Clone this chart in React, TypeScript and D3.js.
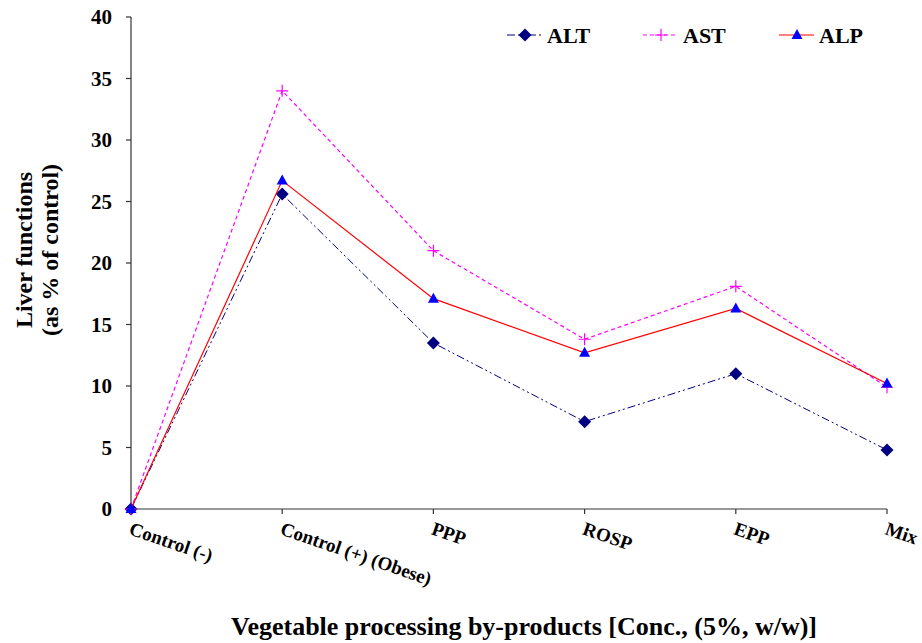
import React from "react";
import * as d3 from "d3";

const categories = ["Control (-)", "Control (+) (Obese)", "PPP", "ROSP", "EPP", "Mix"];
const altValues = [0, 25.6, 13.5, 7.1, 11.0, 4.8];
const astValues = [0, 34.0, 21.0, 13.8, 18.1, 9.9];
const alpValues = [0, 26.7, 17.1, 12.7, 16.3, 10.2];
const yTicks = [0, 5, 10, 15, 20, 25, 30, 35, 40];

const W = 922, H = 643;
const x0 = 131, x1 = 887, yTop = 17, yBot = 509;

export default function App() {
  const x = d3.scalePoint<string>().domain(categories).range([x0, x1]);
  const y = d3.scaleLinear().domain([0, 40]).range([yBot, yTop]);
  const line = d3.line<number>().x((_, i) => x(categories[i])!).y((d) => y(d));
  const font = "'Liberation Serif', 'Times New Roman', serif";

  const diamond = (cx: number, cy: number, k: string) => (
    <path key={k} d={`M${cx},${cy - 6.5}L${cx + 6.5},${cy}L${cx},${cy + 6.5}L${cx - 6.5},${cy}Z`} fill="#000080" />
  );
  const plus = (cx: number, cy: number, k: string) => (
    <path key={k} d={`M${cx - 6},${cy}H${cx + 6}M${cx},${cy - 6}V${cy + 6}`} stroke="#ff00ff" strokeWidth={1.2} />
  );
  const tri = (cx: number, cy: number, k: string) => (
    <path key={k} d={`M${cx},${cy - 6}L${cx + 5.5},${cy + 4}L${cx - 5.5},${cy + 4}Z`} fill="#0000ff" />
  );

  const series = [
    { name: "ALT", vals: altValues, color: "#000080", dash: "8,3,2,3,2,3", width: 1, marker: diamond, lx: 507 },
    { name: "AST", vals: astValues, color: "#ff00ff", dash: "4,3", width: 1.2, marker: plus, lx: 643 },
    { name: "ALP", vals: alpValues, color: "#ff0000", dash: "", width: 1.2, marker: tri, lx: 779 },
  ];

  return (
    <svg width={W} height={H} style={{ position: "absolute", left: 0, top: 0, background: "#fff" }} fontFamily={font}>
      <rect width={W} height={H} fill="#fff" />
      <line x1={x0} x2={x0} y1={yTop} y2={yBot} stroke="#333" strokeWidth={1.2} />
      <line x1={x0} x2={x1} y1={yBot} y2={yBot} stroke="#333" strokeWidth={1.2} />
      {yTicks.map((t) => (
        <g key={t}>
          <line x1={x0 - 5} x2={x0} y1={y(t)} y2={y(t)} stroke="#333" strokeWidth={1.2} />
          <text x={x0 - 19} y={y(t)} dy="0.35em" textAnchor="end" fontWeight="bold" fontSize={21}>{t}</text>
        </g>
      ))}
      {categories.map((c, i) => (
        <g key={c}>
          {i > 0 && <line x1={x(c)!} x2={x(c)!} y1={yBot} y2={yBot + 5} stroke="#333" strokeWidth={1.2} />}
          <text transform={`translate(${x(c)! - 3},${yBot + 25}) rotate(19)`} fontWeight="bold" fontSize={19}>{c}</text>
        </g>
      ))}
      {series.map((s) => (
        <g key={s.name}>
          <path d={line(s.vals)!} fill="none" stroke={s.color} strokeWidth={s.width} strokeDasharray={s.dash || undefined} />
          {s.vals.map((v, i) => s.marker(x(categories[i])!, y(v), s.name + i))}
        </g>
      ))}
      {series.map((s) => (
        <g key={"l" + s.name}>
          <line x1={s.lx} x2={s.lx + 35} y1={35} y2={35} stroke={s.color} strokeWidth={s.width} strokeDasharray={s.dash || undefined} />
          {s.marker(s.lx + 18, 35, "lm" + s.name)}
          <text x={s.lx + 40} y={35} dy="0.35em" fontWeight="bold" fontSize={22}>{s.name}</text>
        </g>
      ))}
      <text transform="translate(32,250) rotate(-90)" textAnchor="middle" fontWeight="bold" fontSize={24}>Liver functions</text>
      <text transform="translate(58,250) rotate(-90)" textAnchor="middle" fontWeight="bold" fontSize={24}>(as % of control)</text>
      <text x={524} y={635} textAnchor="middle" fontWeight="bold" fontSize={26}>Vegetable processing by-products [Conc., (5%, w/w)]</text>
    </svg>
  );
}
